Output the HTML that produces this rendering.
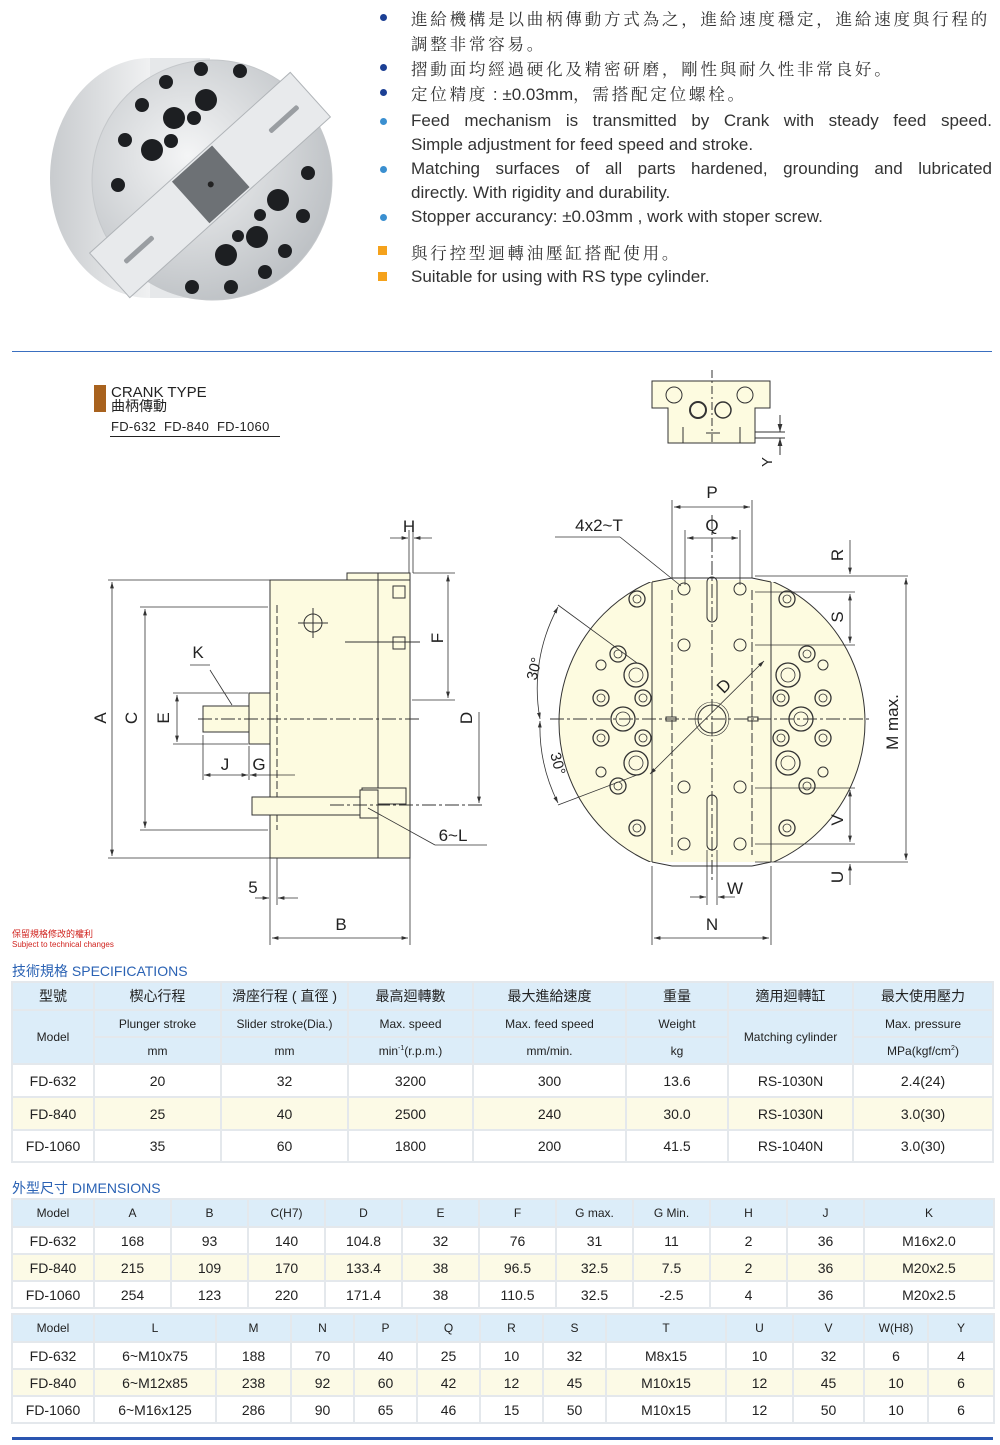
<!DOCTYPE html>
<html><head><meta charset="utf-8">
<style>
body{margin:0;background:#fff;}
#p{position:relative;width:1000px;height:1445px;overflow:hidden;font-family:"Liberation Sans","Noto Sans CJK TC",sans-serif;color:#222;}
.a{position:absolute;white-space:nowrap;}
.cj{font-family:"Noto Serif CJK SC",serif;font-size:16.5px;letter-spacing:2.8px;color:#333;}
.cj span{font-family:"Liberation Sans",sans-serif;letter-spacing:0;font-size:17px;}
.en{font-size:17px;color:#333;width:581px;text-align:justify;text-align-last:justify;white-space:normal;}
.dot{position:absolute;width:7px;height:7px;border-radius:50%;}
.sq{position:absolute;width:9px;height:9px;background:#f5a21b;}
table{position:absolute;border-collapse:collapse;table-layout:fixed;font-size:13px;color:#222;}
td{border:2px solid #e4e8ec;text-align:center;padding:0;}
.h td{background:#dcedf9;}
.y td{background:#fcfae6;}
.t{font-size:14px;color:#2a62b4;}
</style></head><body><div id="p">

<!-- photo -->
<svg class="a" style="left:0;top:0" width="380" height="330">
<defs>
<radialGradient id="g1" cx="40%" cy="40%" r="70%"><stop offset="0" stop-color="#f4f5f6"/><stop offset="1" stop-color="#b8bcc0"/></radialGradient>
<linearGradient id="g2" x1="0" x2="1"><stop offset="0" stop-color="#c8cbce"/><stop offset=".5" stop-color="#f0f1f2"/><stop offset="1" stop-color="#d0d3d6"/></linearGradient>
</defs>
<ellipse cx="150" cy="178" rx="100" ry="120" fill="url(#g2)"/>
<rect x="150" y="58" width="60" height="240" fill="#e6e8ea"/>
<circle cx="212" cy="180" r="120" fill="url(#g1)" stroke="#c4c7ca"/>
<g transform="rotate(-42 210 185)">
<rect x="75" y="155" width="270" height="60" fill="#e8eaec" stroke="#b0b4b8"/>
<rect x="184" y="157" width="54" height="56" fill="#6d7175"/>
<circle cx="211" cy="185" r="3" fill="#222"/>
<rect x="95" y="183" width="38" height="5" rx="2" fill="#9a9ea2"/>
<rect x="290" y="183" width="38" height="5" rx="2" fill="#9a9ea2"/>
</g>
<g fill="#1d1f22">
<circle cx="206" cy="100" r="11"/><circle cx="174" cy="118" r="11"/><circle cx="152" cy="150" r="11"/>
<circle cx="278" cy="200" r="11"/><circle cx="257" cy="237" r="11"/><circle cx="226" cy="255" r="11"/>
<circle cx="142" cy="105" r="7"/><circle cx="125" cy="140" r="7"/><circle cx="166" cy="82" r="7"/><circle cx="201" cy="69" r="7"/><circle cx="240" cy="71" r="7"/>
<circle cx="194" cy="118" r="7"/><circle cx="171" cy="141" r="7"/><circle cx="118" cy="185" r="7"/>
<circle cx="308" cy="173" r="7"/><circle cx="303" cy="216" r="7"/><circle cx="285" cy="251" r="7"/><circle cx="265" cy="272" r="7"/><circle cx="231" cy="287" r="7"/><circle cx="192" cy="287" r="7"/>
<circle cx="260" cy="215" r="6"/><circle cx="238" cy="236" r="6"/>
</g>
</svg>

<!-- bullets -->
<div class="dot" style="left:380px;top:14px;background:#1c3f94"></div>
<div class="dot" style="left:380px;top:64px;background:#1c3f94"></div>
<div class="dot" style="left:380px;top:89px;background:#1c3f94"></div>
<div class="dot" style="left:380px;top:118px;background:#3a8fd0"></div>
<div class="dot" style="left:380px;top:166px;background:#3a8fd0"></div>
<div class="dot" style="left:380px;top:214px;background:#3a8fd0"></div>
<div class="sq" style="left:378px;top:246px"></div>
<div class="sq" style="left:378px;top:272px"></div>
<div class="a cj" style="left:411px;top:6px">進給機構是以曲柄傳動方式為之，進給速度穩定，進給速度與行程的</div>
<div class="a cj" style="left:411px;top:31px">調整非常容易。</div>
<div class="a cj" style="left:411px;top:56px">摺動面均經過硬化及精密研磨，剛性與耐久性非常良好。</div>
<div class="a cj" style="left:411px;top:81px">定位精度<span> : ±0.03mm</span>，需搭配定位螺栓。</div>
<div class="a en" style="left:411px;top:111px">Feed mechanism is transmitted by Crank with steady feed speed.</div>
<div class="a" style="left:411px;top:135px;font-size:17px;color:#333">Simple adjustment for feed speed and stroke.</div>
<div class="a en" style="left:411px;top:159px">Matching surfaces of all parts hardened, grounding and lubricated</div>
<div class="a" style="left:411px;top:183px;font-size:17px;color:#333">directly. With rigidity and durability.</div>
<div class="a" style="left:411px;top:207px;font-size:17px;color:#333">Stopper accurancy: ±0.03mm , work with stoper screw.</div>
<div class="a cj" style="left:411px;top:240px">與行控型迴轉油壓缸搭配使用。</div>
<div class="a" style="left:411px;top:267px;font-size:17px;color:#333">Suitable for using with RS type cylinder.</div>

<div class="a" style="left:12px;top:351px;width:980px;height:1px;background:#3a6fc0"></div>

<!-- crank label -->
<div class="a" style="left:94px;top:385px;width:12px;height:27px;background:#a8621e"></div>
<div class="a" style="left:111px;top:385px;font-size:15px;line-height:15px">CRANK TYPE</div>
<div class="a" style="left:111px;top:399px;font-size:14px;line-height:15px">曲柄傳動</div>
<div class="a" style="left:111px;top:419px;font-size:13px;letter-spacing:.3px">FD-632&nbsp; FD-840&nbsp; FD-1060</div>
<div class="a" style="left:110px;top:436px;width:170px;height:1px;background:#222"></div>

<!-- drawings -->
<svg class="a" style="left:0;top:370px" width="1000" height="580" viewBox="0 370 1000 580" font-family="Liberation Sans" font-size="17" fill="none" stroke="#333" stroke-width="1">
<defs><marker id="ar" viewBox="0 0 10 10" refX="10" refY="5" markerWidth="8" markerHeight="8" orient="auto-start-reverse"><path d="M0,2 L10,5 L0,8z" fill="#333" stroke="none"/></marker></defs>
<!-- side view -->
<rect x="347" y="573" width="63" height="8" fill="#fdfbe0"/>
<rect x="270" y="580" width="140" height="278" fill="#fdfbe0"/>
<line x1="378" y1="573" x2="378" y2="858"/>
<line x1="277" y1="605" x2="277" y2="830" stroke-dasharray="8,3"/>
<rect x="249" y="693" width="21" height="51" fill="#fdfbe0"/>
<rect x="203" y="706" width="46" height="26" fill="#fdfbe0"/>
<line x1="198" y1="719" x2="420" y2="719" stroke-dasharray="14,3,3,3"/>
<circle cx="313" cy="623" r="9"/><line x1="298" y1="623" x2="328" y2="623"/><line x1="313" y1="608" x2="313" y2="638"/>
<g fill="#fdfbe0"><rect x="393" y="586" width="12" height="12"/><rect x="393" y="637" width="12" height="12"/><rect x="362" y="788" width="44" height="16"/><rect x="252" y="797" width="110" height="18"/><rect x="360" y="790" width="18" height="28"/></g>
<line x1="330" y1="805" x2="484" y2="805" stroke-dasharray="14,3,3,3"/>
<line x1="345" y1="642" x2="420" y2="642"/>
<!-- dims side -->
<g stroke-width=".8">
<line x1="108" y1="580" x2="270" y2="580"/><line x1="108" y1="858" x2="270" y2="858"/>
<line x1="112" y1="582" x2="112" y2="856" marker-start="url(#ar)" marker-end="url(#ar)"/>
<line x1="140" y1="607" x2="268" y2="607"/><line x1="140" y1="830" x2="268" y2="830"/>
<line x1="145" y1="609" x2="145" y2="828" marker-start="url(#ar)" marker-end="url(#ar)"/>
<line x1="173" y1="693" x2="248" y2="693"/><line x1="173" y1="744" x2="248" y2="744"/>
<line x1="177" y1="695" x2="177" y2="742" marker-start="url(#ar)" marker-end="url(#ar)"/>
<line x1="203" y1="735" x2="203" y2="780"/><line x1="249" y1="746" x2="249" y2="780"/>
<line x1="204" y1="775" x2="248" y2="775" marker-start="url(#ar)" marker-end="url(#ar)"/>
<line x1="250" y1="775" x2="295" y2="775" marker-start="url(#ar)"/>
<line x1="413" y1="530" x2="413" y2="573"/><line x1="409" y1="530" x2="409" y2="573"/>
<line x1="390" y1="538" x2="408" y2="538" marker-end="url(#ar)"/><line x1="432" y1="538" x2="414" y2="538" marker-end="url(#ar)"/>
<line x1="413" y1="573" x2="455" y2="573"/><line x1="412" y1="700" x2="455" y2="700"/>
<line x1="448" y1="575" x2="448" y2="698" marker-start="url(#ar)" marker-end="url(#ar)"/>
<line x1="479" y1="712" x2="479" y2="803" marker-end="url(#ar)"/>
<line x1="368" y1="808" x2="435" y2="845"/><line x1="435" y1="845" x2="487" y2="845"/>
<line x1="210" y1="670" x2="232" y2="705"/><line x1="190" y1="665" x2="210" y2="665"/>
<line x1="270" y1="858" x2="270" y2="945"/><line x1="410" y1="858" x2="410" y2="945"/><line x1="277" y1="858" x2="277" y2="905"/>
<line x1="255" y1="898" x2="269" y2="898" marker-end="url(#ar)"/><line x1="298" y1="898" x2="278" y2="898" marker-end="url(#ar)"/>
<line x1="272" y1="938" x2="408" y2="938" marker-start="url(#ar)" marker-end="url(#ar)"/>
</g>
<g fill="#222" stroke="none">
<text x="198" y="658" text-anchor="middle">K</text><text x="225" y="770" text-anchor="middle">J</text><text x="259" y="770" text-anchor="middle">G</text>
<text x="409" y="532" text-anchor="middle">H</text><text x="253" y="893" text-anchor="middle">5</text><text x="341" y="930" text-anchor="middle">B</text>
<text x="453" y="841" text-anchor="middle">6~L</text>
<text transform="translate(106,718) rotate(-90)" text-anchor="middle">A</text>
<text transform="translate(137,718) rotate(-90)" text-anchor="middle">C</text>
<text transform="translate(169,718) rotate(-90)" text-anchor="middle">E</text>
<text transform="translate(443,638) rotate(-90)" text-anchor="middle">F</text>
<text transform="translate(472,718) rotate(-90)" text-anchor="middle">D</text>
</g>
<!-- small top view -->
<path d="M652,381 H770 V408 H755 V443 H668 V408 H652Z" fill="#fdfbe0"/>
<line x1="712" y1="370" x2="712" y2="445" stroke-dasharray="8,3,2,3"/>
<circle cx="674" cy="395" r="8"/><circle cx="745" cy="395" r="8"/>
<circle cx="698" cy="410" r="8" stroke-width="2"/><circle cx="723" cy="410" r="8" stroke-width="1.5"/>
<line x1="683" y1="427" x2="683" y2="443"/><line x1="740" y1="427" x2="740" y2="443"/>
<line x1="706" y1="433" x2="720" y2="433"/>
<line x1="755" y1="432" x2="785" y2="432"/><line x1="755" y1="438" x2="785" y2="438"/>
<line x1="780" y1="415" x2="780" y2="432" marker-end="url(#ar)"/><line x1="780" y1="455" x2="780" y2="438" marker-end="url(#ar)"/>
<text transform="translate(772,462) rotate(-90)" text-anchor="middle" fill="#222" stroke="none" font-size="15">Y</text>
<!-- front view -->
<clipPath id="cp"><rect x="540" y="582" width="340" height="280"/></clipPath>
<circle cx="712" cy="722" r="153" fill="#fdfbe0" clip-path="url(#cp)"/>
<rect x="652" y="580" width="119" height="282" fill="#fdfbe0" stroke="none"/>
<path d="M652,582 V862 M771,582 V862 M652,582 L672,578 M752,578 L771,582 M652,862 L672,866 M752,866 L771,862"/>
<line x1="672" y1="578" x2="752" y2="578"/><line x1="672" y1="866" x2="752" y2="866"/>
<line x1="672" y1="590" x2="672" y2="855" stroke-dasharray="10,3"/><line x1="752" y1="590" x2="752" y2="855" stroke-dasharray="10,3"/>
<line x1="712" y1="515" x2="712" y2="880" stroke-dasharray="14,3,3,3"/>
<line x1="550" y1="719" x2="870" y2="719" stroke-dasharray="14,3,3,3"/>
<rect x="707" y="577" width="10" height="45" rx="5"/><rect x="707" y="795" width="10" height="55" rx="5"/>
<circle cx="712" cy="719" r="14"/><circle cx="712" cy="719" r="17" stroke-width=".6"/>
<g stroke-width="1">
<circle cx="684" cy="589" r="6"/><circle cx="740" cy="589" r="6"/><circle cx="684" cy="645" r="6"/><circle cx="740" cy="645" r="6"/>
<circle cx="684" cy="787" r="6"/><circle cx="740" cy="787" r="6"/><circle cx="684" cy="844" r="6"/><circle cx="740" cy="844" r="6"/>
</g>
<g stroke-width="1.3">
<circle cx="637" cy="599" r="8"/><circle cx="787" cy="599" r="8"/><circle cx="637" cy="828" r="8"/><circle cx="787" cy="828" r="8"/>
<circle cx="618" cy="654" r="8"/><circle cx="807" cy="654" r="8"/><circle cx="618" cy="786" r="8"/><circle cx="807" cy="786" r="8"/>
<circle cx="601" cy="698" r="8"/><circle cx="823" cy="698" r="8"/><circle cx="601" cy="738" r="8"/><circle cx="823" cy="738" r="8"/>
<circle cx="643" cy="698" r="8"/><circle cx="781" cy="698" r="8"/><circle cx="643" cy="738" r="8"/><circle cx="781" cy="738" r="8"/>
<circle cx="636" cy="675" r="12"/><circle cx="788" cy="675" r="12"/><circle cx="636" cy="763" r="12"/><circle cx="788" cy="763" r="12"/>
<circle cx="623" cy="719" r="12"/><circle cx="801" cy="719" r="12"/>
</g>
<g stroke-width=".8">
<circle cx="637" cy="599" r="4"/><circle cx="787" cy="599" r="4"/><circle cx="637" cy="828" r="4"/><circle cx="787" cy="828" r="4"/>
<circle cx="618" cy="654" r="4"/><circle cx="807" cy="654" r="4"/><circle cx="618" cy="786" r="4"/><circle cx="807" cy="786" r="4"/>
<circle cx="601" cy="698" r="4"/><circle cx="823" cy="698" r="4"/><circle cx="601" cy="738" r="4"/><circle cx="823" cy="738" r="4"/>
<circle cx="643" cy="698" r="4"/><circle cx="781" cy="698" r="4"/><circle cx="643" cy="738" r="4"/><circle cx="781" cy="738" r="4"/>
<circle cx="636" cy="675" r="7"/><circle cx="788" cy="675" r="7"/><circle cx="636" cy="763" r="7"/><circle cx="788" cy="763" r="7"/>
<circle cx="623" cy="719" r="7"/><circle cx="801" cy="719" r="7"/>
</g>
<circle cx="601" cy="665" r="5"/><circle cx="823" cy="665" r="5"/><circle cx="601" cy="772" r="5"/><circle cx="823" cy="772" r="5"/>
<rect x="666" y="717" width="10" height="4"/><rect x="748" y="717" width="10" height="4"/>
<!-- front dims -->
<g stroke-width=".8">
<line x1="672" y1="500" x2="672" y2="578"/><line x1="752" y1="500" x2="752" y2="578"/>
<line x1="674" y1="507" x2="750" y2="507" marker-start="url(#ar)" marker-end="url(#ar)"/>
<line x1="685" y1="530" x2="685" y2="585"/><line x1="740" y1="530" x2="740" y2="585"/>
<line x1="687" y1="538" x2="738" y2="538" marker-start="url(#ar)" marker-end="url(#ar)"/>
<line x1="555" y1="537" x2="620" y2="537"/><line x1="620" y1="537" x2="681" y2="586"/>
<line x1="755" y1="576" x2="908" y2="576"/><line x1="755" y1="592" x2="855" y2="592"/><line x1="755" y1="645" x2="855" y2="645"/>
<line x1="850" y1="540" x2="850" y2="574" marker-end="url(#ar)"/>
<line x1="850" y1="594" x2="850" y2="643" marker-start="url(#ar)" marker-end="url(#ar)"/>
<line x1="755" y1="788" x2="855" y2="788"/><line x1="755" y1="844" x2="855" y2="844"/><line x1="755" y1="862" x2="908" y2="862"/>
<line x1="850" y1="790" x2="850" y2="842" marker-start="url(#ar)" marker-end="url(#ar)"/>
<line x1="850" y1="885" x2="850" y2="864" marker-end="url(#ar)"/>
<line x1="906" y1="578" x2="906" y2="860" marker-start="url(#ar)" marker-end="url(#ar)"/>
<line x1="707" y1="850" x2="707" y2="905"/><line x1="717" y1="850" x2="717" y2="905"/>
<line x1="690" y1="897" x2="706" y2="897" marker-end="url(#ar)"/><line x1="735" y1="897" x2="718" y2="897" marker-end="url(#ar)"/>
<line x1="652" y1="866" x2="652" y2="945"/><line x1="771" y1="866" x2="771" y2="945"/>
<line x1="654" y1="938" x2="769" y2="938" marker-start="url(#ar)" marker-end="url(#ar)"/>
<line x1="650" y1="774" x2="764" y2="661" marker-start="url(#ar)" marker-end="url(#ar)"/>
<line x1="558" y1="605" x2="637" y2="663"/><line x1="558" y1="805" x2="637" y2="775"/>
<path d="M558,607 A170,170 0 0,0 540,719" marker-start="url(#ar)" marker-end="url(#ar)"/>
<path d="M540,721 A170,170 0 0,0 558,803" marker-start="url(#ar)" marker-end="url(#ar)"/>
</g>
<g fill="#222" stroke="none">
<text x="712" y="498" text-anchor="middle">P</text><text x="712" y="531" text-anchor="middle">Q</text>
<text x="599" y="531" text-anchor="middle">4x2~T</text>
<text x="735" y="894" text-anchor="middle">W</text><text x="712" y="930" text-anchor="middle">N</text>
<text transform="translate(843,555) rotate(-90)" text-anchor="middle">R</text>
<text transform="translate(843,617) rotate(-90)" text-anchor="middle">S</text>
<text transform="translate(843,820) rotate(-90)" text-anchor="middle">V</text>
<text transform="translate(843,877) rotate(-90)" text-anchor="middle">U</text>
<text transform="translate(898,722) rotate(-90)" text-anchor="middle">M max.</text>
<text transform="translate(728,690) rotate(-45)" text-anchor="middle">D</text>
<text transform="translate(539,670) rotate(-75)" text-anchor="middle" font-size="15">30°</text>
<text transform="translate(553,765) rotate(75)" text-anchor="middle" font-size="15">30°</text>
</g>
</svg>

<div class="a" style="left:12px;top:927px;font-size:9px;color:#d0231e">保留規格修改的權利</div>
<div class="a" style="left:12px;top:940px;font-size:8px;color:#d0231e">Subject to technical changes</div>

<div class="a t" style="left:12px;top:961px">技術規格 SPECIFICATIONS</div>
<table style="left:11px;top:981px;width:981px">
<colgroup><col style="width:82px"><col style="width:127px"><col style="width:127px"><col style="width:125px"><col style="width:153px"><col style="width:102px"><col style="width:125px"><col style="width:140px"></colgroup>
<tr class="h" style="height:28px;font-size:14px"><td>型號</td><td>楔心行程</td><td>滑座行程 ( 直徑 )</td><td>最高迴轉數</td><td>最大進給速度</td><td>重量</td><td>適用迴轉缸</td><td>最大使用壓力</td></tr>
<tr class="h" style="height:27px;font-size:12px"><td rowspan="2">Model</td><td>Plunger stroke</td><td>Slider stroke(Dia.)</td><td>Max. speed</td><td>Max. feed speed</td><td>Weight</td><td rowspan="2">Matching cylinder</td><td>Max. pressure</td></tr>
<tr class="h" style="height:27px;font-size:12px"><td>mm</td><td>mm</td><td>min<sup style="font-size:7px">-1</sup>(r.p.m.)</td><td>mm/min.</td><td>kg</td><td>MPa(kgf/cm<sup style="font-size:7px">2</sup>)</td></tr>
<tr style="height:33px;font-size:14px"><td>FD-632</td><td>20</td><td>32</td><td>3200</td><td>300</td><td>13.6</td><td>RS-1030N</td><td>2.4(24)</td></tr>
<tr class="y" style="height:33px;font-size:14px"><td>FD-840</td><td>25</td><td>40</td><td>2500</td><td>240</td><td>30.0</td><td>RS-1030N</td><td>3.0(30)</td></tr>
<tr style="height:32px;font-size:14px"><td>FD-1060</td><td>35</td><td>60</td><td>1800</td><td>200</td><td>41.5</td><td>RS-1040N</td><td>3.0(30)</td></tr>
</table>

<div class="a t" style="left:12px;top:1178px">外型尺寸 DIMENSIONS</div>
<table style="left:11px;top:1198px;width:982px">
<colgroup><col style="width:82px"><col style="width:77px"><col style="width:77px"><col style="width:77px"><col style="width:77px"><col style="width:77px"><col style="width:77px"><col style="width:77px"><col style="width:77px"><col style="width:77px"><col style="width:77px"><col style="width:130px"></colgroup>
<tr class="h" style="height:28px;font-size:12px"><td>Model</td><td>A</td><td>B</td><td>C(H7)</td><td>D</td><td>E</td><td>F</td><td>G max.</td><td>G Min.</td><td>H</td><td>J</td><td>K</td></tr>
<tr style="height:27px;font-size:14px"><td>FD-632</td><td>168</td><td>93</td><td>140</td><td>104.8</td><td>32</td><td>76</td><td>31</td><td>11</td><td>2</td><td>36</td><td>M16x2.0</td></tr>
<tr class="y" style="height:27px;font-size:14px"><td>FD-840</td><td>215</td><td>109</td><td>170</td><td>133.4</td><td>38</td><td>96.5</td><td>32.5</td><td>7.5</td><td>2</td><td>36</td><td>M20x2.5</td></tr>
<tr style="height:27px;font-size:14px"><td>FD-1060</td><td>254</td><td>123</td><td>220</td><td>171.4</td><td>38</td><td>110.5</td><td>32.5</td><td>-2.5</td><td>4</td><td>36</td><td>M20x2.5</td></tr>
</table>
<table style="left:11px;top:1313px;width:982px">
<colgroup><col style="width:82px"><col style="width:122px"><col style="width:75px"><col style="width:63px"><col style="width:63px"><col style="width:63px"><col style="width:63px"><col style="width:63px"><col style="width:120px"><col style="width:67px"><col style="width:71px"><col style="width:64px"><col style="width:66px"></colgroup>
<tr class="h" style="height:28px;font-size:12px"><td>Model</td><td>L</td><td>M</td><td>N</td><td>P</td><td>Q</td><td>R</td><td>S</td><td>T</td><td>U</td><td>V</td><td>W(H8)</td><td>Y</td></tr>
<tr style="height:27px;font-size:14px"><td>FD-632</td><td>6~M10x75</td><td>188</td><td>70</td><td>40</td><td>25</td><td>10</td><td>32</td><td>M8x15</td><td>10</td><td>32</td><td>6</td><td>4</td></tr>
<tr class="y" style="height:27px;font-size:14px"><td>FD-840</td><td>6~M12x85</td><td>238</td><td>92</td><td>60</td><td>42</td><td>12</td><td>45</td><td>M10x15</td><td>12</td><td>45</td><td>10</td><td>6</td></tr>
<tr style="height:27px;font-size:14px"><td>FD-1060</td><td>6~M16x125</td><td>286</td><td>90</td><td>65</td><td>46</td><td>15</td><td>50</td><td>M10x15</td><td>12</td><td>50</td><td>10</td><td>6</td></tr>
</table>
<div class="a" style="left:12px;top:1437px;width:981px;height:3px;background:#2a55b0"></div>
</div></body></html>
